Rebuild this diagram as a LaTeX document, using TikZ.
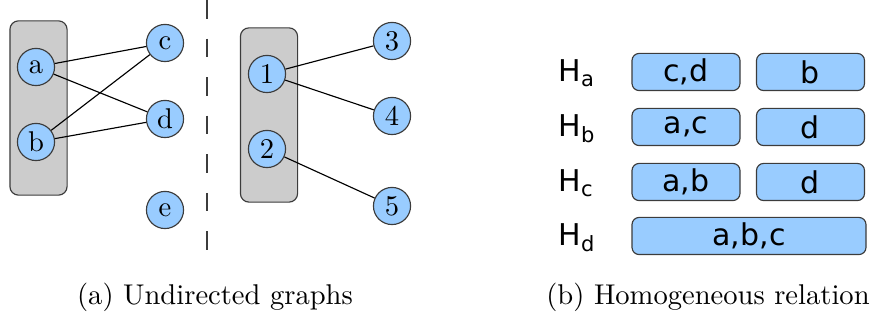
\documentclass[tikz,border=0pt]{standalone}
\usepackage{fontspec}
\usepackage{tikz}
\usetikzlibrary{positioning}
\usepackage{xcolor}
\newfontfamily\dejavu{DejaVu Sans}
\definecolor{vblue}{RGB}{153,204,255}
\definecolor{vgray}{RGB}{204,204,204}
\definecolor{vedge}{RGB}{60,60,60}

\begin{document}
\begin{tikzpicture}[x=0.35pt, y=-0.35pt,
    vertex/.style={circle, draw=vedge, fill=vblue, thin, minimum size=13pt, inner sep=0pt, font=\normalsize},
    group/.style={rectangle, rounded corners=3pt, draw=vedge, fill=vgray, thin, minimum width=20pt, minimum height=61pt},
    part/.style={rectangle, rounded corners=2.5pt, draw=vedge, fill=vblue, thin, minimum height=13pt, inner sep=0pt, font=\dejavu\fontsize{10.5}{12}\selectfont},
    hlabel/.style={anchor=base west, inner sep=0pt, font=\dejavu\fontsize{10.5}{12}\selectfont},
    line/.style={thin, black},
    caption/.style={anchor=base, inner sep=0pt, font=\normalsize}]
\useasboundingbox (0,0) rectangle (874,320);
% groups
\node[group] (g1) at (38.5,108) {};
\node[group] (g2) at (269,115) {};
% vertices
\node[vertex] (a) at (36,67) {a};
\node[vertex] (b) at (36,142) {b};
\node[vertex] (c) at (165,43) {c};
\node[vertex] (d) at (165,119) {d};
\node[vertex] (e) at (165,210) {e};
\node[vertex] (n1) at (267,74) {1};
\node[vertex] (n2) at (267,149) {2};
\node[vertex] (n3) at (392,41) {3};
\node[vertex] (n4) at (392,116) {4};
\node[vertex] (n5) at (392,206) {5};
% edges
\draw[line] (a) -- (c);
\draw[line] (a) -- (d);
\draw[line] (b) -- (c);
\draw[line] (b) -- (d);
\draw[line] (n1) -- (n3);
\draw[line] (n1) -- (n4);
\draw[line] (n2) -- (n5);
% separator
\coordinate (stop) at (207,0);
\coordinate (sbot) at (207,250);
\draw[thin, vedge, dash pattern=on 6.5pt off 7pt] (stop) -- (sbot);
% relation
\node[hlabel] (ha) at (558,82) {H\textsubscript{a}};
\node[hlabel] (hb) at (558,137) {H\textsubscript{b}};
\node[hlabel] (hc) at (558,192) {H\textsubscript{c}};
\node[hlabel] (hd) at (558,246) {H\textsubscript{d}};
\node[part, minimum width=37.8pt] (pa1) at (686,72) {c,d};
\node[part, minimum width=37.8pt] (pa2) at (810.5,72) {b};
\node[part, minimum width=37.8pt] (pb1) at (686,127) {a,c};
\node[part, minimum width=37.8pt] (pb2) at (810.5,127) {d};
\node[part, minimum width=37.8pt] (pc1) at (686,182) {a,b};
\node[part, minimum width=37.8pt] (pc2) at (810.5,182) {d};
\node[part, minimum width=81.9pt] (pd1) at (749,236) {a,b,c};
% captions
\node[caption] (capa) at (215,305) {(a) Undirected graphs};
\node[caption] (capb) at (708,305) {(b) Homogeneous relation};
\end{tikzpicture}
\end{document}
